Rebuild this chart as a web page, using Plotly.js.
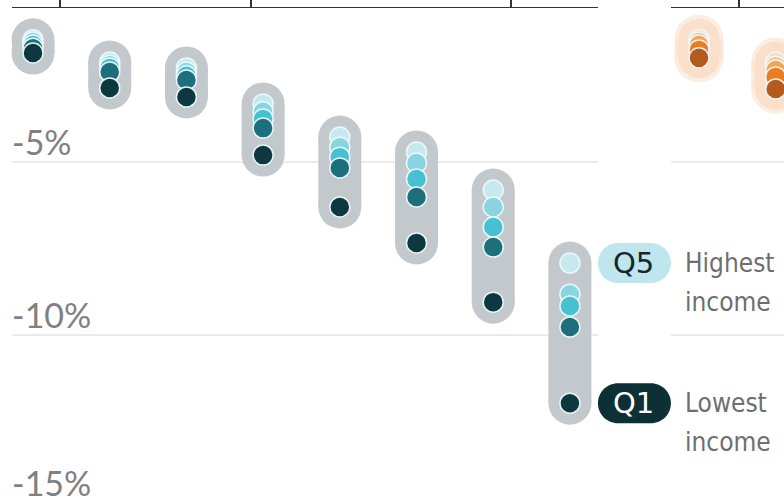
<!DOCTYPE html>
<html>
<head>
<meta charset="utf-8">
<script src="https://cdn.plot.ly/plotly-3.0.1.min.js"></script>
<style>
  html, body { margin: 0; padding: 0; background: #fff; }
  #chart { width: 784px; height: 504px; }
</style>
</head>
<body>
<div id="chart"></div>
<script>
// ---- data (percent change) ----
const leftX  = [1, 2, 3, 4, 5, 6, 7, 8];
const leftQ1 = [-1.85, -2.86, -3.12, -4.80, -6.30, -7.34, -9.05, -11.97];
const leftQ2 = [-1.71, -2.40, -2.63, -4.02, -5.17, -6.01, -7.46, -9.77];
const leftQ3 = [-1.62, -2.28, -2.51, -3.76, -4.86, -5.49, -6.88, -9.16];
const leftQ4 = [-1.53, -2.20, -2.40, -3.55, -4.57, -5.03, -6.30, -8.82];
const leftQ5 = [-1.47, -2.11, -2.28, -3.32, -4.28, -4.71, -5.81, -7.92];

const rightX  = [1, 2];
const rightQ1 = [-1.99, -2.89];
const rightQ2 = [-1.76, -2.54];
const rightQ3 = [-1.62, -2.34];
const rightQ4 = [-1.53, -2.23];
const rightQ5 = [-1.45, -2.11];

const leftTickVals  = [1.35, 3.84, 7.23];
const rightTickVals = [1.52];
const yTickVals   = [-5, -10, -15];
const yTickLabels = ['-5%', '-10%', '-15%'];
const quintileLabels = ['Q5', 'Q1'];
const incomeLabels = [['Highest', 'income'], ['Lowest', 'income']];

// ---- styles ----
const tealColors   = ['#0e3840', '#1d6f7c', '#46c1d1', '#8ad4df', '#c6e9ef'];
const orangeColors = ['#b45a1c', '#ec7c22', '#f5a352', '#f8c28c', '#fbdcbd'];
const DOT = 20, PILL = 43;
const W = 784, H = 504, MT = 8;

function pill(xs, hi, lo, color, xa, ya, width) {
  const x = [], y = [];
  xs.forEach((v, i) => { x.push(v, v, null); y.push(hi[i], lo[i], null); });
  return { type: 'scatter', mode: 'lines+markers', x, y, xaxis: xa, yaxis: ya,
    line: { color, width }, marker: { color, size: width },
    hoverinfo: 'skip', showlegend: false, cliponaxis: false };
}
function dots(xs, ys, color, xa, ya, name) {
  return { type: 'scatter', mode: 'markers', x: xs, y: ys, xaxis: xa, yaxis: ya, name,
    marker: { color, size: DOT, line: { color: 'rgba(236,250,252,0.95)', width: 1.5 } },
    showlegend: false, cliponaxis: false };
}

const lq = [leftQ1, leftQ2, leftQ3, leftQ4, leftQ5];
const rq = [rightQ1, rightQ2, rightQ3, rightQ4, rightQ5];
const traces = [
  pill(leftX, leftQ5, leftQ1, '#c3c8cc', 'x', 'y', PILL),
  pill(rightX, rightQ5, rightQ1, 'rgba(250,222,200,0.55)', 'x2', 'y2', PILL + 6),
  pill(rightX, rightQ5, rightQ1, '#fadfca', 'x2', 'y2', PILL - 2)
];
for (let q = 4; q >= 0; q--) traces.push(dots(leftX, lq[q], tealColors[q], 'x', 'y', 'Q' + (q + 1)));
for (let q = 4; q >= 0; q--) traces.push(dots(rightX, rq[q], orangeColors[q], 'x2', 'y2', 'Q' + (q + 1)));

const yRange = [-14.884, -0.549];
const xDomain = [12 / W, 598 / W], xRange = [0.726, 8.366];
const yAxisBase = { range: yRange, tickvals: yTickVals, showticklabels: false, ticks: '',
  showgrid: true, gridcolor: '#ebebeb', gridwidth: 1.5, zeroline: false, showline: false, fixedrange: true };
const xAxisBase = { side: 'top', showline: true, linecolor: '#333', linewidth: 1.5, ticks: 'outside',
  ticklen: 8, tickcolor: '#333', tickwidth: 1.5, showticklabels: false, showgrid: false, zeroline: false };

// map data -> paper (paper = plot area inside margins) through the axis ranges/domains
const yToPaper = v => (v - yRange[0]) / (yRange[1] - yRange[0]);
const xToPaper = v => xDomain[0] + (v - xRange[0]) / (xRange[1] - xRange[0]) * (xDomain[1] - xDomain[0]);

// stadium badge (pixel path relative to anchor point)
const k = 11.05;
const badgePath = `M48,-20 L81,-20 C${81 + k},-20 101,${-k} 101,0 C101,${k} ${81 + k},20 81,20 L48,20 C${48 - k},20 28,${k} 28,0 C28,${-k} ${48 - k},-20 48,-20 Z`;
const lastX = leftX[leftX.length - 1];
const badgeY = [leftQ5[leftQ5.length - 1], leftQ1[leftQ1.length - 1]];
const badgeFill = ['#bfe6ee', '#0d2f36'];
const badgeText = ['#16262b', '#ffffff'];

const shapes = badgeY.map((yv, i) => ({
  type: 'path', xref: 'paper', yref: 'paper', xsizemode: 'pixel', ysizemode: 'pixel',
  xanchor: xToPaper(lastX), yanchor: yToPaper(yv), path: badgePath, fillcolor: badgeFill[i], line: { width: 0 }
}));

const annotations = [];
yTickVals.forEach((v, i) => annotations.push({
  xref: 'paper', yref: 'paper', x: 12 / W - 0.003, y: yToPaper(v), xanchor: 'left', yanchor: 'bottom',
  yshift: v < yRange[0] ? 3 : -2,
  text: yTickLabels[i], showarrow: false, font: { family: 'Lato, sans-serif', size: 34, color: '#808080' }
}));
badgeY.forEach((yv, i) => {
  annotations.push({ xref: 'paper', yref: 'paper', x: xToPaper(lastX), y: yToPaper(yv), xshift: 64, xanchor: 'center', yanchor: 'middle',
    text: quintileLabels[i], showarrow: false, font: { family: 'DejaVu Sans, sans-serif', size: 29, color: badgeText[i] } });
  incomeLabels[i].forEach((line, j) => annotations.push({ xref: 'paper', yref: 'paper', x: xToPaper(lastX), y: yToPaper(yv),
    xshift: 113, yshift: -39 * j, xanchor: 'left', yanchor: 'middle', text: line, showarrow: false,
    font: { family: 'DejaVu Sans Condensed, Liberation Sans Narrow, sans-serif', size: 26, color: '#6e6e6e' } }));
});

const layout = {
  width: W, height: H,
  margin: { l: 0, r: 0, t: MT, b: 0 },
  paper_bgcolor: '#ffffff', plot_bgcolor: '#ffffff',
  xaxis: Object.assign({}, xAxisBase, { domain: xDomain, range: xRange, tickvals: leftTickVals, anchor: 'y' }),
  xaxis2: Object.assign({}, xAxisBase, { domain: [671 / W, 1], range: [0.635, 2.108], tickvals: rightTickVals, anchor: 'y2' }),
  yaxis: Object.assign({}, yAxisBase, { anchor: 'x' }),
  yaxis2: Object.assign({}, yAxisBase, { anchor: 'x2' }),
  shapes, annotations,
  showlegend: false
};

Plotly.newPlot('chart', traces, layout, { displayModeBar: false, staticPlot: true });
</script>
</body>
</html>
